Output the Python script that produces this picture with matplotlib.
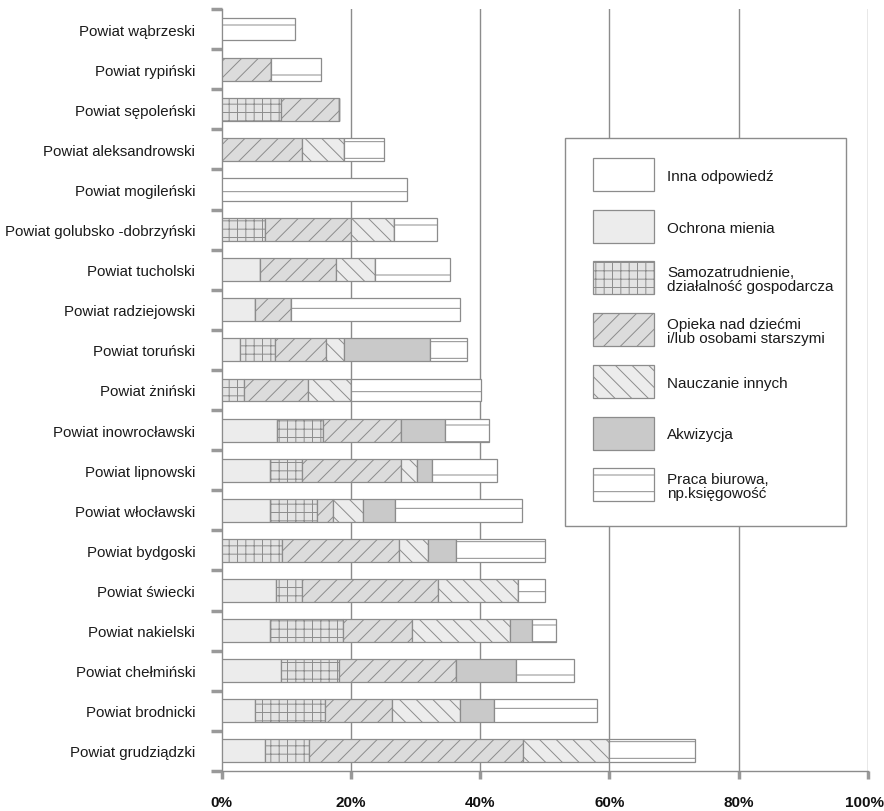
import matplotlib.pyplot as plt
import numpy as np
from matplotlib.patches import Rectangle
from matplotlib.transforms import ScaledTranslation

plt.rcParams['font.family'] = ['Liberation Sans', 'DejaVu Sans']
plt.rcParams['hatch.linewidth'] = 0.7
plt.rcParams['hatch.color'] = '#8c8c8c'

# Data (percent), top to bottom
powiaty = ['Powiat wąbrzeski', 'Powiat rypiński', 'Powiat sępoleński',
           'Powiat aleksandrowski', 'Powiat mogileński',
           'Powiat golubsko -dobrzyński', 'Powiat tucholski',
           'Powiat radziejowski', 'Powiat toruński', 'Powiat żniński',
           'Powiat inowrocławski', 'Powiat lipnowski', 'Powiat włocławski',
           'Powiat bydgoski', 'Powiat świecki', 'Powiat nakielski',
           'Powiat chełmiński', 'Powiat brodnicki', 'Powiat grudziądzki']

inna       = [0, 0, 0, 0, 0, 0, 0, 0, 0, 0, 0, 0, 0, 0, 0, 0, 0, 0, 0]
ochrona    = [0, 0, 0, 0, 0, 0, 5.9, 5.2, 2.8, 0, 8.6, 7.5, 7.5, 0, 8.5, 7.5, 9.2, 5.2, 6.7]
samozatr   = [0, 0, 9.2, 0, 0, 6.8, 0, 0, 5.4, 3.5, 7.1, 5.0, 7.2, 9.3, 4.0, 11.3, 9.0, 10.8, 6.8]
opieka     = [0, 7.7, 9.0, 12.5, 0, 13.3, 11.8, 5.5, 8.0, 9.9, 12.0, 15.2, 2.5, 18.1, 21.0, 10.7, 18.1, 10.4, 33.2]
nauczanie  = [0, 0, 0, 6.5, 0, 6.5, 6.0, 0, 2.8, 6.7, 0, 2.5, 4.7, 4.5, 12.3, 15.1, 0, 10.5, 13.3]
akwizycja  = [0, 0, 0, 0, 0, 0, 0, 0, 13.3, 0, 6.9, 2.4, 5.0, 4.4, 0, 3.4, 9.3, 5.2, 0]
praca      = [11.3, 7.75, 0, 6.1, 28.7, 6.8, 11.6, 26.2, 5.6, 20.0, 6.7, 10.0, 19.5, 13.8, 4.3, 3.8, 8.9, 16.0, 13.2]

series = [
    ('Inna odpowiedź', inna, '#ffffff', ''),
    ('Ochrona mienia', ochrona, '#ececec', ''),
    ('Samozatrudnienie,\ndziałalność gospodarcza', samozatr, '#e3e3e3', '++'),
    ('Opieka nad dziećmi\ni/lub osobami starszymi', opieka, '#dcdcdc', '//'),
    ('Nauczanie innych', nauczanie, '#ececec', '\\\\'),
    ('Akwizycja', akwizycja, '#c9c9c9', ''),
    ('Praca biurowa,\nnp.księgowość', praca, '#ffffff', '-'),
]

W, H = 884, 812
fig = plt.figure(figsize=(W / 100, H / 100), dpi=100)
ax = fig.add_axes([0.2506, 0.0493, 0.7314, 0.9384])

y = np.arange(len(powiaty))
left = np.zeros(len(powiaty))
for name, vals, fc, hatch in series:
    vals = np.array(vals, dtype=float)
    ax.barh(y, vals, left=left, height=0.57, color=fc, edgecolor='#8c8c8c',
            linewidth=0.9, hatch=hatch, zorder=3)
    left += vals

ax.set_xlim(0, 100)
ax.set_ylim(len(powiaty) - 0.5, -0.5)

ax.set_xticks([0, 20, 40, 60, 80, 100])
ax.set_xticklabels(['0%', '20%', '40%', '60%', '80%', '100%'],
                   fontsize=11, fontweight='bold', color='#111111')
ax.tick_params(axis='x', length=6, width=2.5, color='#999999', pad=11)
for xv in [20, 40, 60, 80, 100]:
    ax.axvline(xv, color='#8c8c8c', linewidth=1, zorder=1)

ax.set_yticks(y)
ax.set_yticklabels(powiaty, fontsize=10.8, color='#1a1a1a')
ax.tick_params(axis='y', length=0, pad=19)
ax.set_yticks(np.arange(len(powiaty) + 1) - 0.5, minor=True)
ax.tick_params(axis='y', which='minor', length=8, width=2.5, color='#999999')

for s in ['top', 'right']:
    ax.spines[s].set_visible(False)
for s in ['left', 'bottom']:
    ax.spines[s].set_color('#8c8c8c')
    ax.spines[s].set_linewidth(1)

# keep "100%" inside the picture
last = ax.get_xticklabels()[-1]
last.set_transform(last.get_transform() + ScaledTranslation(-4 / 100, 0, fig.dpi_scale_trans))

# legend box, laid out in pixels of the figure
def fx(px):
    return px / W

def fy(py):
    return 1 - py / H

fig.add_artist(Rectangle((fx(565), fy(527)), fx(846) - fx(565), fy(139) - fy(527),
                         transform=fig.transFigure, facecolor='white',
                         edgecolor='#8c8c8c', linewidth=1, zorder=5))
for i, (name, _, fc, hatch) in enumerate(series):
    top = 159 + 51.7 * i
    fig.add_artist(Rectangle((fx(593), fy(top + 33)), fx(654) - fx(593), 33 / H,
                             transform=fig.transFigure, facecolor=fc, hatch=hatch,
                             edgecolor='#8c8c8c', linewidth=0.9, zorder=6))
    fig.text(fx(667), fy(top + 18), name, fontsize=11, color='#1a1a1a',
             va='center', ha='left', linespacing=1.0, zorder=6)

fig.savefig('out.png', dpi=100, facecolor='white')
